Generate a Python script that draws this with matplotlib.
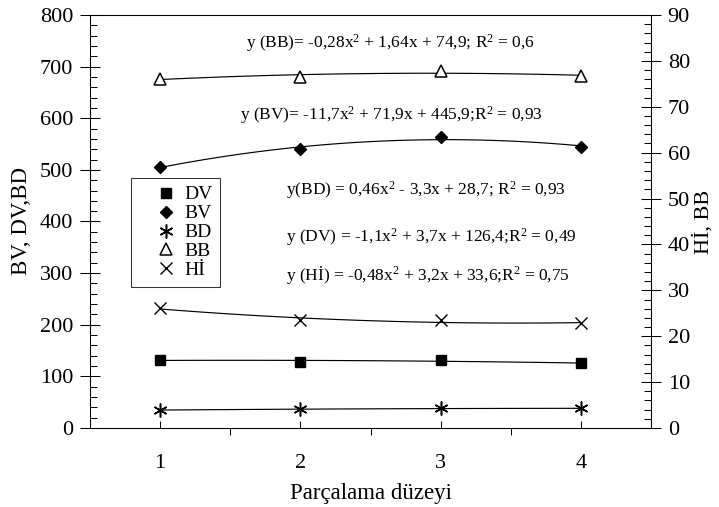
import numpy as np
import matplotlib
matplotlib.use("Agg")
import matplotlib.pyplot as plt
from matplotlib.lines import Line2D

plt.rcParams['font.family'] = ['Liberation Serif', 'DejaVu Serif']
plt.rcParams['mathtext.fontset'] = 'custom'
plt.rcParams['mathtext.rm'] = 'Liberation Serif'
plt.rcParams['mathtext.it'] = 'Liberation Serif:italic'

levels = [1, 2, 3, 4]
dv = [131.7, 128.5, 131.7, 125.0]
bv = [506, 540, 563, 545]
bd = [34.9, 36.1, 38.0, 38.0]
bb = [76.1, 76.5, 77.8, 76.7]
hi = [26.1, 23.5, 23.5, 22.8]

eq_bb = "y (BB)= -0,28x$^2$ + 1,64x + 74,9; R$^2$ = 0,6"
eq_bv = "y (BV)= -11,7x$^2$ + 71,9x + 445,9;R$^2$ = 0,93"
eq_bd = "y(BD) = 0,46x$^2$ - 3,3x + 28,7; R$^2$ = 0,93"
eq_dv = "y (DV) = -1,1x$^2$ + 3,7x + 126,4;R$^2$ = 0,49"
eq_hi = "y (Hİ) = -0,48x$^2$ + 3,2x + 33,6;R$^2$ = 0,75"

fig = plt.figure(figsize=(7.19, 5.07), dpi=100)
ax = fig.add_axes([90/719, 1-428/507, (651-90)/719, (428-15)/507])
ax2 = ax.twinx()

xs = np.linspace(1, 4, 100)

def trend(axis, y):
    c = np.polyfit(levels, y, 2)
    axis.plot(xs, np.polyval(c, xs), color='black', lw=0.85, zorder=2)

lw = 0.75
# left axis series
trend(ax, dv)
trend(ax, bv)
trend(ax, bd)
ax.plot(levels, dv, ls='none', marker='s', ms=7.5, mfc='black', mec='black', zorder=3)
ax.plot(levels, bv, ls='none', marker='D', ms=6.5, mfc='black', mec='black', zorder=3)
ax.plot(levels, bd, ls='none', marker=(6, 2, 0), ms=10, mec='black', mew=1.1, zorder=3)
# right axis series
trend(ax2, bb)
trend(ax2, hi)
ax2.plot(levels, bb, ls='none', marker='^', ms=8.5, mfc='white', mec='black', mew=1.1, zorder=3)
ax2.plot(levels, hi, ls='none', marker='x', ms=9, mec='black', mew=1.0, zorder=3)

ax.set_xlim(0.5, 4.5)
ax.set_ylim(0, 800)
ax2.set_ylim(0, 90)

ax.set_xticks(levels)
ax.set_xticks([1.5, 2.5, 3.5], minor=True)
ax.tick_params(axis='x', which='major', direction='in', length=5, width=lw, labelsize=16, pad=19)
ax.tick_params(axis='x', which='minor', direction='out', length=5, width=lw)

ax.set_yticks(np.arange(0, 801, 100))
ax.set_yticks(np.arange(0, 801, 20), minor=True)
ax.tick_params(axis='y', which='major', direction='inout', length=14, width=lw, labelsize=16, pad=5)
ax.tick_params(axis='y', which='minor', direction='in', length=5, width=lw)

ax2.set_yticks(np.arange(0, 91, 10))
ax2.set_yticks(np.arange(0, 91, 2), minor=True)
ax2.tick_params(axis='y', which='major', direction='inout', length=14, width=lw, labelsize=16, pad=5)
ax2.tick_params(axis='y', which='minor', direction='in', length=5, width=lw)

for a in (ax, ax2):
    for s in a.spines.values():
        s.set_linewidth(lw)

ax.set_xlabel("Parçalama düzeyi", fontsize=16.5, labelpad=7)
ax.set_ylabel("BV, DV,BD", fontsize=16.5, labelpad=6)
ax2.set_ylabel("Hİ, BB", fontsize=16, labelpad=2)

fs = 12.5
ax.text(2.64, 745, eq_bb, fontsize=fs, ha='center', va='center')
ax.text(2.65, 606, eq_bv, fontsize=fs, ha='center', va='center')
ax.text(1.90, 461, eq_bd, fontsize=fs, ha='left', va='center')
ax.text(1.90, 370, eq_dv, fontsize=fs, ha='left', va='center')
ax.text(1.90, 296, eq_hi, fontsize=fs, ha='left', va='center')

handles = [
    Line2D([], [], ls='none', marker='s', ms=7.5, mfc='black', mec='black'),
    Line2D([], [], ls='none', marker='D', ms=6.5, mfc='black', mec='black'),
    Line2D([], [], ls='none', marker=(6, 2, 0), ms=10, mec='black', mew=1.1),
    Line2D([], [], ls='none', marker='^', ms=8.5, mfc='white', mec='black', mew=1.1),
    Line2D([], [], ls='none', marker='x', ms=9, mec='black', mew=1.0),
]
labels = ["DV", "BV", "BD", "BB", "Hİ"]
leg = ax.legend(handles, labels, loc='upper left', bbox_to_anchor=((131-90)/561, (428-178)/413),
                borderaxespad=0, frameon=True, fancybox=False, edgecolor='black', fontsize=14,
                handletextpad=-0.45, labelspacing=0.07, borderpad=0.4, handlelength=2.8)
leg.get_frame().set_linewidth(lw)

fig.savefig("out.png", dpi=100)
